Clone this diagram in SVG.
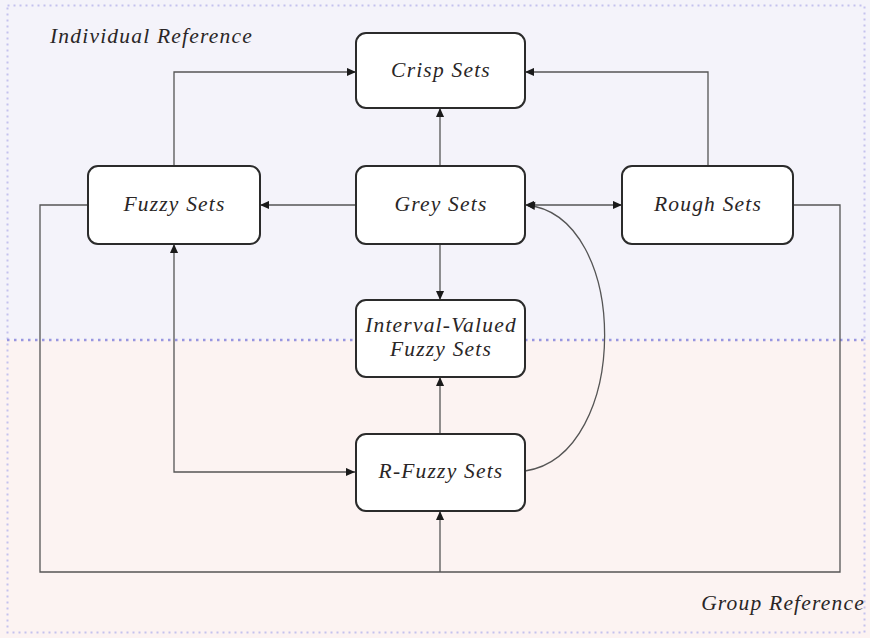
<svg xmlns="http://www.w3.org/2000/svg" width="870" height="638" viewBox="0 0 870 638">
  <style>
    .node rect { fill: #ffffff; stroke: #2b2b2b; stroke-width: 2; }
    .label { font-family: "Liberation Serif", "Times New Roman", serif; font-style: italic; font-size: 21.5px; fill: #2a2626; text-anchor: middle; letter-spacing: 1.2px; }
    .region { font-family: "Liberation Serif", "Times New Roman", serif; font-style: italic; font-size: 21.5px; fill: #2a2626; letter-spacing: 1.2px; }
    .edge { fill: none; stroke: #555555; stroke-width: 1.3; }
  </style>
  <defs>
    <marker id="arrow" viewBox="0 0 10 10" refX="10" refY="5" markerWidth="10" markerHeight="9" markerUnits="userSpaceOnUse" orient="auto-start-reverse">
      <path d="M0,0.5 L10,5 L0,9.5 Z" fill="#1a1a1a"/>
    </marker>
  </defs>

  <!-- two reference zones -->
  <rect x="0" y="0" width="870" height="340" fill="#f4f3fa"/>
  <rect x="0" y="340" width="870" height="298" fill="#fcf3f2"/>
  <rect x="7.5" y="5.5" width="857" height="627" fill="none" stroke="#c4c2ee" stroke-width="2" stroke-dasharray="2 4"/>
  <line x1="7" y1="340" x2="865" y2="340" stroke="#9896e0" stroke-width="2.5" stroke-dasharray="2.5 4.5"/>

  <text class="region" x="50" y="43">Individual Reference</text>
  <text class="region" x="865" y="610" text-anchor="end">Group Reference</text>

  <!-- connectors -->
  <g id="connectors">
    <path class="edge" d="M174,166 V72 H356" marker-end="url(#arrow)"/>
    <path class="edge" d="M708,166 V72 H525" marker-end="url(#arrow)"/>
    <path class="edge" d="M440,166 V108" marker-end="url(#arrow)"/>
    <path class="edge" d="M356,205 H260" marker-end="url(#arrow)"/>
    <path class="edge" d="M525,205 H622" marker-start="url(#arrow)" marker-end="url(#arrow)"/>
    <path class="edge" d="M440,244 V300" marker-end="url(#arrow)"/>
    <path class="edge" d="M440,434 V377" marker-end="url(#arrow)"/>
    <path class="edge" d="M174,244 V472 H355" marker-start="url(#arrow)" marker-end="url(#arrow)"/>
    <path class="edge" d="M525,471 C631,455 631,215 526,205" marker-end="url(#arrow)"/>
    <path class="edge" d="M88,205 H40 V572 H840 V205 H793"/>
    <path class="edge" d="M440,572 V511" marker-end="url(#arrow)"/>
  </g>

  <!-- nodes -->
  <g id="crisp" class="node">
    <rect x="356" y="33" width="169" height="75" rx="10"/>
    <text class="label" x="441" y="77">Crisp Sets</text>
  </g>
  <g id="fuzzy" class="node">
    <rect x="88" y="166" width="172" height="78" rx="10"/>
    <text class="label" x="174.5" y="211">Fuzzy Sets</text>
  </g>
  <g id="grey" class="node">
    <rect x="356" y="166" width="169" height="78" rx="10"/>
    <text class="label" x="441" y="211">Grey Sets</text>
  </g>
  <g id="rough" class="node">
    <rect x="622" y="166" width="171" height="78" rx="10"/>
    <text class="label" x="708" y="211">Rough Sets</text>
  </g>
  <g id="interval" class="node">
    <rect x="356" y="300" width="169" height="77" rx="10"/>
    <text class="label" x="441" y="332">Interval-Valued</text>
    <text class="label" x="441" y="356">Fuzzy Sets</text>
  </g>
  <g id="rfuzzy" class="node">
    <rect x="356" y="434" width="169" height="77" rx="10"/>
    <text class="label" x="441" y="478">R-Fuzzy Sets</text>
  </g>
</svg>
